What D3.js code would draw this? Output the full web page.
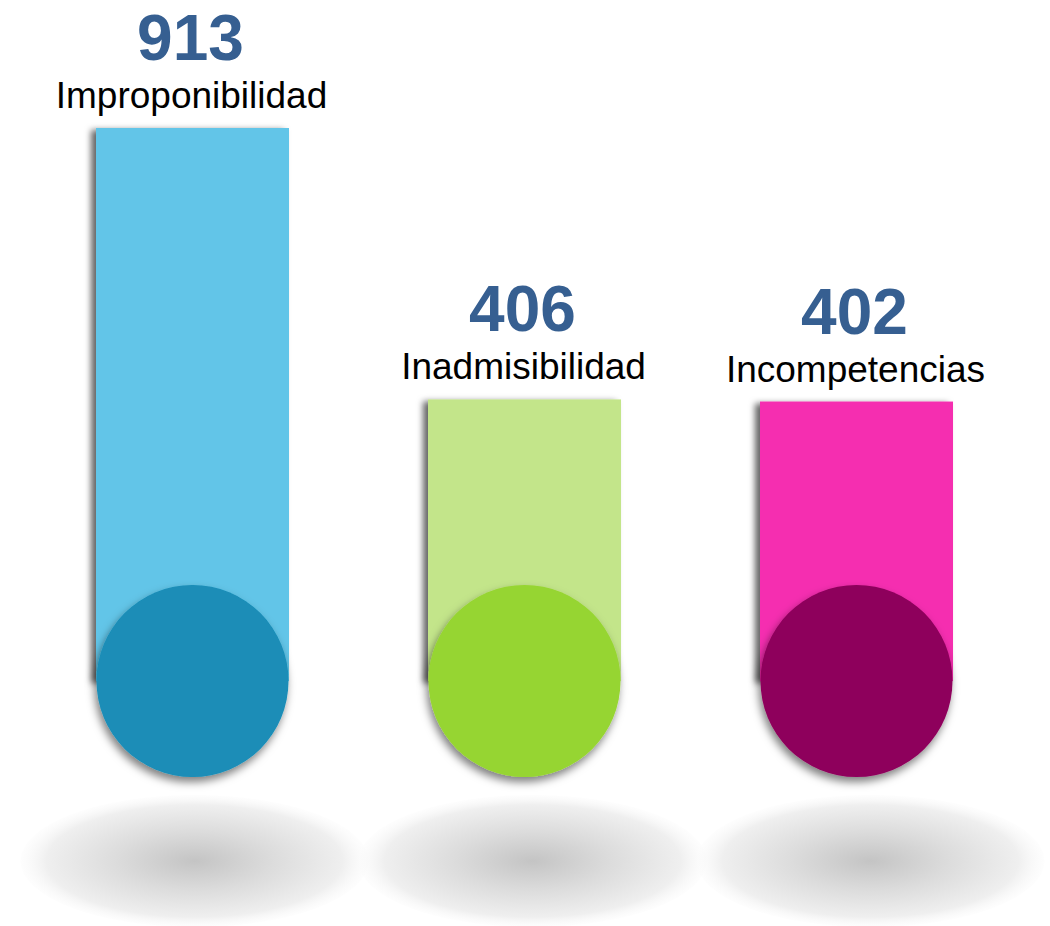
<!doctype html>
<html>
	<head>
		<meta charset="utf-8">
		<script src="https://cdn.jsdelivr.net/npm/d3@7"></script>
		<style>
			body { margin: 0; background: #fff; }
			text { font-family: "Liberation Sans", Arial, sans-serif; }
		</style>
	</head>
	<body>
		<div id="container"></div>
		<script>
			// data
			var categories = ["Improponibilidad", "Inadmisibilidad", "Incompetencias"];
			var values = [913, 406, 402];
			var barColors = ["#62c5e8", "#c3e58a", "#f52db0"];
			var circleColors = ["#1a8db7", "#96d530", "#8e065c"];

			var width = 1050, height = 926;
			var baseY = 681;

			var svg = d3.select("#container")
				.append("svg")
				.attr("width", width)
				.attr("height", height);

			var defs = svg.append("defs");
			var grad = defs.append("radialGradient").attr("id", "floor");
			grad.append("stop").attr("offset", "0%").attr("stop-color", "#c4c4c4");
			grad.append("stop").attr("offset", "45%").attr("stop-color", "#dcdcdc");
			grad.append("stop").attr("offset", "85%").attr("stop-color", "#efefef");
			grad.append("stop").attr("offset", "100%").attr("stop-color", "#fbfbfb").attr("stop-opacity", 0.4);

			var f1 = defs.append("filter").attr("id", "barShadow")
				.attr("x", "-20%").attr("y", "-10%").attr("width", "140%").attr("height", "120%");
			f1.append("feDropShadow").attr("dx", -5).attr("dy", 2)
				.attr("stdDeviation", 3).attr("flood-color", "#000").attr("flood-opacity", 0.6);

			var f2 = defs.append("filter").attr("id", "circShadow")
				.attr("x", "-20%").attr("y", "-20%").attr("width", "140%").attr("height", "140%");
			f2.append("feDropShadow").attr("dx", -2).attr("dy", 5)
				.attr("stdDeviation", 4).attr("flood-color", "#000").attr("flood-opacity", 0.5);

			var x = d3.scalePoint().domain(categories).range([192.5, 856.5]);
			var y = d3.scaleLinear().domain([-120, 913]).range([baseY, 128]);
			var barW = 193, r = 96;

			var g = svg.selectAll("g.item")
				.data(categories)
				.enter()
				.append("g")
				.attr("class", "item");

			// floor shadow
			g.append("ellipse")
				.attr("cx", function(d, i){ return x(d) + 2 + i * 6; })
				.attr("cy", 861)
				.attr("rx", 174)
				.attr("ry", 66)
				.attr("fill", "url(#floor)");

			g.append("rect")
				.attr("x", function(d){ return x(d) - barW / 2; })
				.attr("y", function(d, i){ return y(values[i]); })
				.attr("width", barW)
				.attr("height", function(d, i){ return baseY - y(values[i]); })
				.attr("fill", function(d, i){ return barColors[i]; })
				.attr("filter", "url(#barShadow)");

			g.append("circle")
				.attr("cx", function(d){ return x(d); })
				.attr("cy", baseY)
				.attr("r", r)
				.attr("fill", function(d, i){ return circleColors[i]; })
				.attr("filter", "url(#circShadow)");

			g.append("text")
				.attr("x", function(d){ return x(d) - 2; })
				.attr("y", function(d, i){ return y(values[i]) - 68; })
				.attr("text-anchor", "middle")
				.attr("font-size", 64)
				.attr("font-weight", "bold")
				.attr("fill", "#365f91")
				.text(function(d, i){ return values[i]; });

			g.append("text")
				.attr("x", function(d){ return x(d) - 1; })
				.attr("y", function(d, i){ return y(values[i]) - 20; })
				.attr("text-anchor", "middle")
				.attr("font-size", 37)
				.attr("fill", "#000")
				.text(function(d){ return d; });
		</script>
	</body>
</html>
